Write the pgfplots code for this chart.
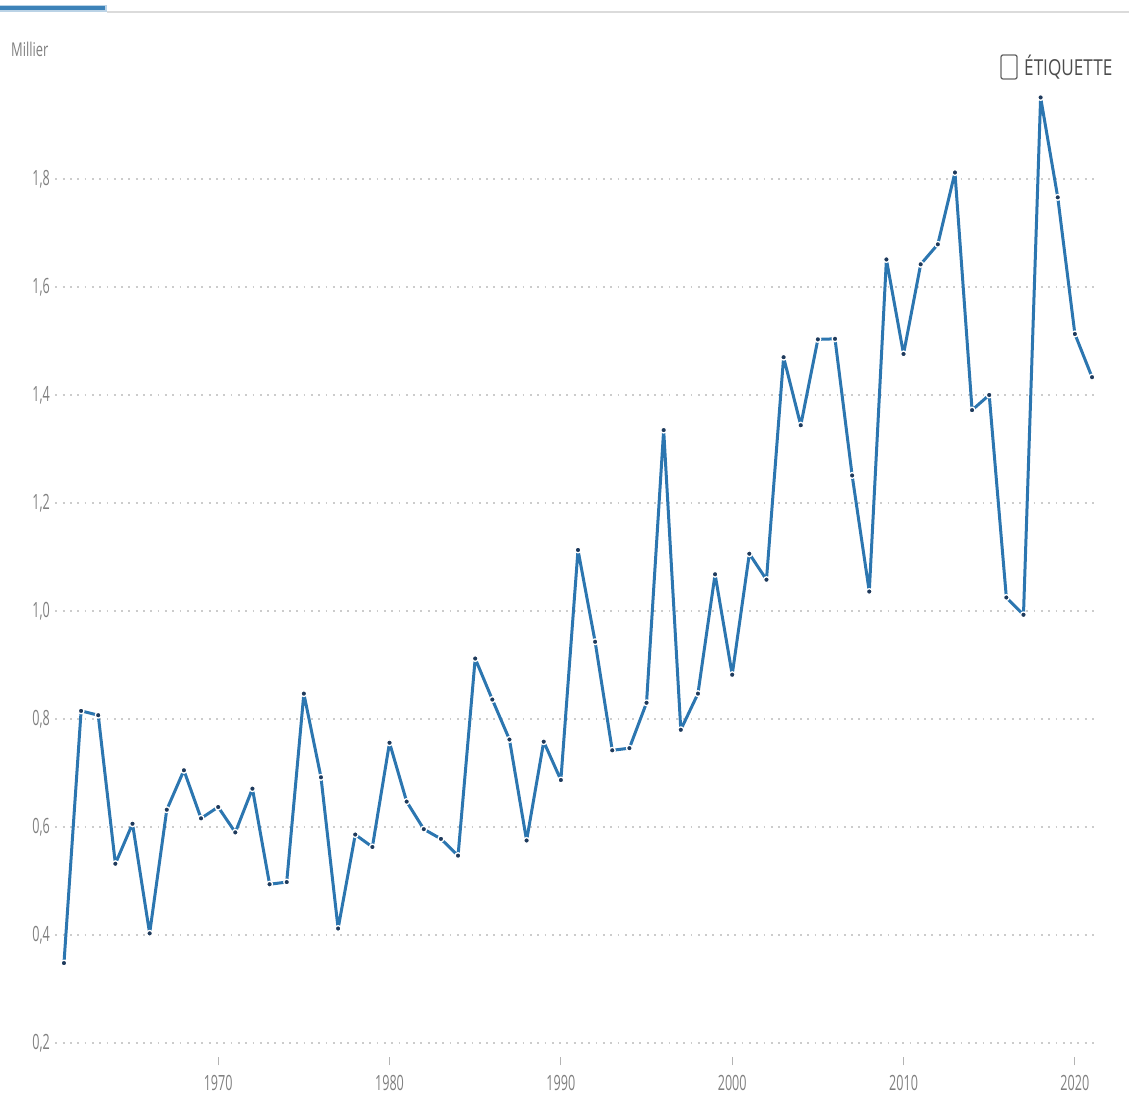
\documentclass[border=0pt]{standalone}
\usepackage{fontspec}
\setmainfont{Open Sans}[FakeStretch=0.78]
\newfontfamily\tickfont{Open Sans}[FakeStretch=0.6]
\newfontfamily\unitfont{Open Sans}[FakeStretch=0.68]
\usepackage{pgfplots}
\pgfplotsset{compat=1.18}
\usepackage{pgfplotstable}

\definecolor{serieblue}{HTML}{2C76B0}
\definecolor{markdark}{HTML}{1E3A5C}
\definecolor{gridgray}{HTML}{CCCCCC}
\definecolor{labelgray}{HTML}{808080}
\definecolor{tabblue}{HTML}{3D82B8}

\pgfplotstableread{
year value
1961 0.348
1962 0.815
1963 0.807
1964 0.532
1965 0.606
1966 0.403
1967 0.632
1968 0.705
1969 0.616
1970 0.637
1971 0.590
1972 0.671
1973 0.494
1974 0.498
1975 0.847
1976 0.692
1977 0.412
1978 0.586
1979 0.563
1980 0.756
1981 0.647
1982 0.596
1983 0.578
1984 0.547
1985 0.912
1986 0.836
1987 0.762
1988 0.575
1989 0.758
1990 0.687
1991 1.113
1992 0.943
1993 0.742
1994 0.746
1995 0.830
1996 1.335
1997 0.780
1998 0.847
1999 1.068
2000 0.882
2001 1.106
2002 1.058
2003 1.470
2004 1.344
2005 1.503
2006 1.504
2007 1.251
2008 1.036
2009 1.651
2010 1.476
2011 1.642
2012 1.679
2013 1.812
2014 1.372
2015 1.400
2016 1.025
2017 0.993
2018 1.951
2019 1.766
2020 1.513
2021 1.433
}\datatable

\begin{document}
\begin{tikzpicture}
\useasboundingbox (0pt,0pt) rectangle (1129pt,1108pt);
% tab header
\fill[gridgray!70] (107pt,1094.5pt) rectangle (1129pt,1096.5pt);
\fill[tabblue!35] (0pt,1096pt) rectangle (107pt,1103pt);
\fill[tabblue] (0pt,1097.5pt) rectangle (105pt,1101.5pt);
% unit label
\node[anchor=west, inner sep=0pt, text=labelgray, font=\unitfont\fontsize{19}{22}\selectfont] at (11pt,1059pt) {Millier};
% label toggle
\draw[labelgray!80!black, line width=1.3pt, rounded corners=2pt] (1001pt,1029pt) rectangle (1017pt,1053pt);
\node[anchor=west, inner sep=0pt, text=black!70, font=\fontsize{22}{26}\selectfont] at (1024pt,1041pt) {ÉTIQUETTE};

\begin{axis}[
  at={(55.4pt,51.5pt)}, anchor=south west,
  scale only axis, width=1040pt, height=985.5pt,
  xmin=1960.5, xmax=2021.2,
  ymin=0.175, ymax=2.0,
  axis line style={draw=none},
  xtick={1970,1980,...,2020},
  ytick={0.2,0.4,...,1.8},
  xtick pos=bottom, ytick pos=left,
  tick align=outside,
  major tick length=9pt,
  xtick style={labelgray!60, line width=0.8pt},
  ytick style={draw=none},
  ymajorgrids,
  grid style={gridgray, line width=1.8pt, dash pattern=on 1.8pt off 5.5pt},
  tick label style={text=labelgray, font=\tickfont\fontsize{21}{24}\selectfont},
  xticklabel style={yshift=-6pt},
  yticklabel style={xshift=7pt},
  /pgf/number format/assume math mode=true,
  xticklabel={\pgfmathprintnumber[1000 sep={}]{\tick}},
  yticklabel={\pgfmathprintnumber[fixed, fixed zerofill, precision=1, use comma]{\tick}},
  clip=false,
]
\addplot[serieblue, line width=3pt, line join=round,
  mark=*, mark size=2.9pt,
  mark options={fill=markdark, draw=white, line width=1.3pt}]
  table[x=year, y=value] {\datatable};
\end{axis}
\end{tikzpicture}
\end{document}
